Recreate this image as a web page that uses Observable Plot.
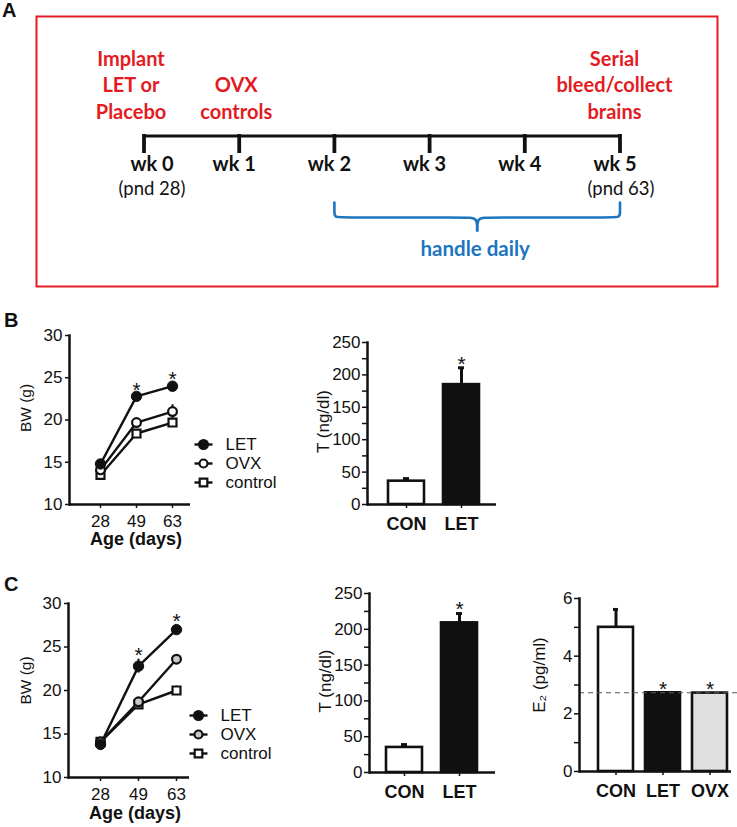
<!DOCTYPE html>
<html><head><meta charset="utf-8">
<script src="https://cdn.jsdelivr.net/npm/d3@7"></script>
<script src="https://cdn.jsdelivr.net/npm/@observablehq/plot@0.6"></script>
<style>
html,body{margin:0;padding:0;background:#fff;}
#root{position:relative;width:737px;height:827px;overflow:hidden;font-family:"Liberation Sans",Arial,sans-serif;background:#fff;}
#root svg{position:absolute;}
.letter{position:absolute;font-weight:bold;font-size:20px;line-height:20px;color:#111;}
</style></head><body><div id="root"></div>
<script>
// ---------- data ----------
const weeks = [0, 1, 2, 3, 4, 5];
const weekLabels = ["wk 0", "wk 1", "wk 2", "wk 3", "wk 4", "wk 5"];
const pndWeeks = [0, 5];
const pndLabels = ["(pnd 28)", "(pnd 63)"];
const eventWeeks = [0, 1, 5];
const eventTexts = ["Implant\nLET or\nPlacebo", "OVX\ncontrols", "Serial\nbleed/collect\nbrains"];
const handleSpan = [2, 5];
const handleLabel = "handle daily";

const ages = [28, 49, 63];
const groups = ["LET", "OVX", "control"];
const sigAges = [49, 63];

// Panel B body weight (g)
const bwB_LET = [14.8, 22.8, 24.0];
const bwB_LET_err = [0.3, 0.3, 0.4];
const bwB_OVX = [14.1, 19.7, 21.0];
const bwB_OVX_err = [0.3, 0.3, 0.8];
const bwB_CON = [13.5, 18.4, 19.7];
const bwB_CON_err = [0.3, 0.3, 0.3];

// Panel C body weight (g)
const bwC_LET = [13.8, 22.8, 27.0];
const bwC_LET_err = [0.4, 0.8, 0.5];
const bwC_OVX = [14.1, 18.7, 23.6];
const bwC_OVX_err = [0.3, 0.3, 0.4];
const bwC_CON = [14.1, 18.4, 20.0];
const bwC_CON_err = [0.3, 0.3, 0.5];

// Testosterone (ng/dl)
const tCats = ["CON", "LET"];
const tB = [36, 185];
const tB_err = [4, 26];
const tC = [35, 209];
const tC_err = [4, 13];
const tSig = ["LET"];

// Estradiol (pg/ml)
const e2Cats = ["CON", "LET", "OVX"];
const e2 = [5.0, 2.73, 2.72];
const e2_err = [0.62, 0, 0];
const e2Sig = ["LET", "OVX"];
const e2Limit = 2.73;

// ---------- helpers ----------
const root = document.getElementById("root");
const INK = "#111";
const RED = "#e31b23";
const BLUE = "#1b75bf";
const baseStyle = {fontFamily: "'Liberation Sans', Arial, sans-serif", fontSize: "17px", color: INK, background: "transparent", overflow: "visible"};

function place(node, left, top) {
  node.style.left = left + "px";
  node.style.top = top + "px";
  root.appendChild(node);
}
function letter(t, left, top) {
  const d = document.createElement("div");
  d.className = "letter"; d.textContent = t;
  d.style.left = left + "px"; d.style.top = top + "px";
  root.appendChild(d);
}

// ---------- Panel A (timeline) ----------
const A = {events: 118, line: 135.5, tickEnd: 153, wk: 170.5, pnd: 194.5, braceTop: 202, braceMid: 217, braceTip: 230, handle: 255};
const [s0, s1] = handleSpan, mid = (s0 + s1) / 2, curl = 0.11;
const brace = [
  ...[[s0, A.braceTop], [s0, A.braceMid - 5], [s0, A.braceMid], [s0 + curl, A.braceMid], [mid - curl, A.braceMid], [mid, A.braceMid], [mid, A.braceTip]].map(([x, y]) => ({x, y, side: "L"})),
  ...[[s1, A.braceTop], [s1, A.braceMid - 5], [s1, A.braceMid], [s1 - curl, A.braceMid], [mid + curl, A.braceMid], [mid, A.braceMid], [mid, A.braceTip]].map(([x, y]) => ({x, y, side: "R"}))
];
const eventNudge = [-13, -3, -5.5];
const events = eventWeeks.map((w, i) => ({week: w, text: eventTexts[i]}));
const wkData = weeks.map((w, i) => ({week: w, text: weekLabels[i]}));
const pndData = pndWeeks.map((w, i) => ({week: w, text: pndLabels[i]}));
const fontA = "Lato, 'Open Sans', sans-serif";

const panelA = Plot.plot({
  width: 737, height: 300,
  marginLeft: 36, marginRight: 20, marginTop: 16, marginBottom: 14,
  x: {domain: [0, 5], range: [143.5, 619.5], axis: null},
  y: {type: "identity", axis: null},
  style: {...baseStyle, fontFamily: fontA},
  marks: [
    Plot.frame({stroke: RED, strokeWidth: 2}),
    Plot.ruleY([A.line], {x1: 0, x2: 5, stroke: INK, strokeWidth: 3.2}),
    Plot.ruleX(weeks, {x: d => d, y1: A.line - 1.5, y2: A.tickEnd, stroke: INK, strokeWidth: 3.8}),
    ...events.map((e, i) => Plot.text([e], {x: "week", y: A.events, text: "text", lineAnchor: "bottom", lineHeight: 1.32, fill: RED, fontWeight: "bold", fontSize: 20, dx: eventNudge[i]})),
    Plot.text(wkData.filter(d => d.week === 0), {x: "week", y: A.wk, text: "text", lineAnchor: "bottom", fontWeight: "bold", fontSize: 20, fill: INK, dx: 8}),
    Plot.text(wkData.filter(d => d.week > 0), {x: "week", y: A.wk, text: "text", lineAnchor: "bottom", fontWeight: "bold", fontSize: 20, fill: INK, dx: -5}),
    Plot.text(pndData.filter(d => d.week === 0), {x: "week", y: A.pnd, text: "text", lineAnchor: "bottom", fontSize: 18.5, fill: INK, dx: 8}),
    Plot.text(pndData.filter(d => d.week > 0), {x: "week", y: A.pnd, text: "text", lineAnchor: "bottom", fontSize: 18.5, fill: INK, dx: 1}),
    Plot.line(brace, {x: "x", y: "y", z: "side", curve: "basis", stroke: BLUE, strokeWidth: 2.6}),
    Plot.text([handleLabel], {x: mid, y: A.handle, text: d => d, lineAnchor: "bottom", fontWeight: "bold", fontSize: 20.5, fill: BLUE, dx: -2})
  ]
});
place(panelA, 0, 0);
letter("A", 2, 0);

// ---------- Body-weight line charts ----------
function bwTable(L, Le, O, Oe, C, Ce) {
  const s = [["LET", L, Le], ["OVX", O, Oe], ["control", C, Ce]];
  return s.flatMap(([g, v, e]) => ages.map((a, i) => ({group: g, age: a, value: v[i], err: e[i]})));
}
function bwChart(tab, o) {
  return Plot.plot({
    width: o.width, height: o.height,
    marginLeft: o.ml, marginRight: o.mr, marginTop: o.mt, marginBottom: o.mb,
    x: {type: "point", domain: ages, range: o.xRange, padding: 0},
    y: {domain: [10, 30]},
    style: baseStyle,
    marks: [
      Plot.axisY({ticks: [10, 15, 20, 25, 30], tickSize: 4, tickPadding: 3, fontSize: 17, label: null, strokeWidth: 1.5}),
      Plot.axisX({tickSize: 4, tickPadding: 6, fontSize: 17, label: null, strokeWidth: 1.5}),
      Plot.frame({anchor: "left", stroke: INK, strokeWidth: 2.5}),
      Plot.ruleY([10], {stroke: INK, strokeWidth: 2.5}),
      Plot.line(tab, {x: "age", y: "value", z: "group", stroke: INK, strokeWidth: 2.4}),
      Plot.ruleX(tab, {x: "age", y1: d => d.value - d.err, y2: d => d.value + d.err, stroke: INK, strokeWidth: 2}),
      Plot.dot(tab.filter(d => d.group === "control"), {x: "age", y: "value", symbol: "square", r: 4.5, fill: "white", stroke: INK, strokeWidth: 2.2}),
      Plot.dot(tab.filter(d => d.group === "OVX"), {x: "age", y: "value", r: 4.4, fill: o.ovxFill, stroke: INK, strokeWidth: 2.2}),
      Plot.dot(tab.filter(d => d.group === "LET"), {x: "age", y: "value", r: 5.2, fill: INK, stroke: INK, strokeWidth: 1}),
      Plot.text(tab.filter(d => d.group === "LET" && sigAges.includes(d.age)), {x: "age", y: d => d.value + d.err, text: () => "*", fontSize: 21, lineAnchor: "middle", dy: -4}),
      Plot.text(["BW (g)"], {frameAnchor: "left", rotate: -90, text: d => d, fontSize: 15.5, textAnchor: "middle", lineAnchor: "middle", dx: o.ylx, dy: o.yly}),
      Plot.text(["Age (days)"], {frameAnchor: "bottom", text: d => d, fontSize: 18, fontWeight: "bold", textAnchor: "middle", lineAnchor: "middle", dx: o.xlx, dy: o.xly})
    ]
  });
}
function bwLegend(ovxFill, spacing) {
  const rows = groups.map(g => ({group: g}));
  const key = {x1: 0, x2: 18, dot: 9, text: 31};
  return Plot.plot({
    width: 110, height: 60, margin: 0,
    x: {type: "linear", domain: [0, 110], range: [0, 110], axis: null},
    y: {type: "point", domain: groups, range: [10, 10 + 2 * spacing], padding: 0, axis: null},
    style: baseStyle,
    marks: [
      Plot.link(rows, {y1: "group", y2: "group", x1: () => key.x1, x2: () => key.x2, stroke: INK, strokeWidth: 2.4}),
      Plot.dot(rows.filter(d => d.group === "control"), {y: "group", x: () => key.dot, symbol: "square", r: 4.3, fill: "white", stroke: INK, strokeWidth: 2.2}),
      Plot.dot(rows.filter(d => d.group === "OVX"), {y: "group", x: () => key.dot, r: 4, fill: ovxFill, stroke: INK, strokeWidth: 2.2}),
      Plot.dot(rows.filter(d => d.group === "LET"), {y: "group", x: () => key.dot, r: 4.8, fill: INK, stroke: INK}),
      Plot.text(rows, {y: "group", x: () => key.text, text: "group", textAnchor: "start", lineAnchor: "middle", fontSize: 17})
    ]
  });
}

// ---------- Bar charts ----------
function barChart(cats, vals, errs, sig, fills, o) {
  const tab = cats.map((c, i) => ({cat: c, value: vals[i], err: errs[i], fill: fills[i]}));
  const withErr = tab.filter(d => d.err > 0);
  const marks = [
    Plot.axisY({ticks: o.ticks, tickFormat: o.tickFormat, tickSize: 5, tickPadding: 2, fontSize: 17, label: null, strokeWidth: 1.5}),
    Plot.axisX({tickSize: 4, tickPadding: 9, fontSize: 18, fontWeight: "bold", label: null, strokeWidth: 1.5}),
    Plot.barY(tab, {x: "cat", y: "value", fill: "fill", stroke: INK, strokeWidth: 2.6}),
    Plot.ruleX(withErr, {x: "cat", y1: "value", y2: d => d.value + d.err, stroke: INK, strokeWidth: 3}),
    Plot.tickY(withErr, {x: "cat", y: d => d.value + d.err, stroke: INK, strokeWidth: 3, insetLeft: 15, insetRight: 15}),
  ];
  if (o.limit != null) marks.push(Plot.ruleY([o.limit], {stroke: "#555", strokeWidth: 1.1, strokeDasharray: "5,4", insetRight: -7}));
  marks.push(
    Plot.frame({anchor: "left", stroke: INK, strokeWidth: 2.5}),
    Plot.ruleY([0], {stroke: INK, strokeWidth: 2.5}),
    Plot.text(tab.filter(d => sig.includes(d.cat)), {x: "cat", y: d => d.value + d.err, text: () => "*", fontSize: 21, lineAnchor: "middle", dy: -4}),
    Plot.text([o.ylabel], {frameAnchor: "left", rotate: -90, text: d => d, fontSize: 17, textAnchor: "middle", lineAnchor: "middle", dx: o.ylx, dy: o.yly})
  );
  return Plot.plot({
    width: o.width, height: o.height,
    marginLeft: o.ml, marginRight: o.mr, marginTop: o.mt, marginBottom: o.mb,
    x: {type: "band", domain: cats, range: o.xRange, paddingInner: o.pad, paddingOuter: 0},
    y: {domain: o.yDomain},
    color: {type: "identity"},
    style: baseStyle,
    marks
  });
}

// ---------- Panel B ----------
letter("B", 4, 310);
place(bwChart(bwTable(bwB_LET, bwB_LET_err, bwB_OVX, bwB_OVX_err, bwB_CON, bwB_CON_err),
  {width: 300, height: 260, ml: 69, mr: 110, mt: 35, mb: 56, xRange: [100, 172], ovxFill: "white", ylx: -43, yly: -12, xlx: 6, xly: 35}), 0, 300);
place(bwLegend("white", 19.5), 194, 433);
place(barChart(tCats, tB, tB_err, tSig, ["white", INK],
  {width: 200, height: 260, ml: 47, mr: 24, mt: 42, mb: 56, xRange: [67, 159], pad: 0.35, yDomain: [0, 250],
   ticks: d3.range(0, 251, 25), tickFormat: d => d % 50 === 0 ? d : "", ylabel: "T (ng/dl)", ylx: -44, yly: -2}), 320, 300);

// ---------- Panel C ----------
letter("C", 4, 574);
place(bwChart(bwTable(bwC_LET, bwC_LET_err, bwC_OVX, bwC_OVX_err, bwC_CON, bwC_CON_err),
  {width: 300, height: 267, ml: 68, mr: 111, mt: 43, mb: 50, xRange: [100, 176], ovxFill: "#c9c9c9", ylx: -42, yly: -10, xlx: 6, xly: 36}), 0, 560);
place(bwLegend("#c9c9c9", 19.5), 189, 704);
place(barChart(tCats, tC, tC_err, tSig, ["white", INK],
  {width: 200, height: 267, ml: 49, mr: 25, mt: 33, mb: 55, xRange: [65.7, 156.7], pad: 0.35, yDomain: [0, 250],
   ticks: d3.range(0, 251, 25), tickFormat: d => d % 50 === 0 ? d : "", ylabel: "T (ng/dl)", ylx: -44, yly: -2}), 320, 560);
place(barChart(e2Cats, e2, e2_err, e2Sig, ["white", INK, "#e0e0e0"],
  {width: 217, height: 267, ml: 59, mr: 6, mt: 38, mb: 56, xRange: [76.7, 207.3], pad: 0.26, yDomain: [0, 6],
   ticks: d3.range(0, 7, 1), tickFormat: d => d % 2 === 0 ? d : "", ylabel: "E\u2082 (pg/ml)", limit: e2Limit, ylx: -40, yly: -10}), 520, 560);
</script>
</body></html>
